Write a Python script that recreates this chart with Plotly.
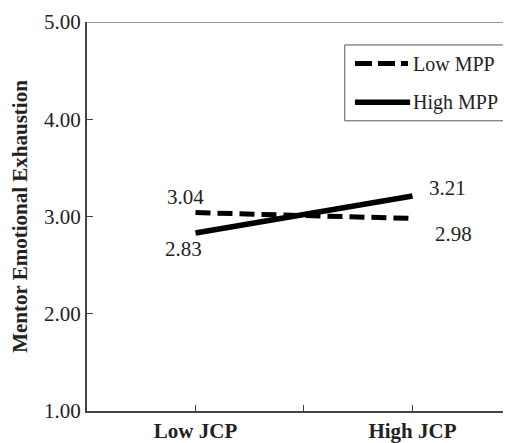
import plotly.graph_objects as go

categories = ["Low JCP", "High JCP"]
series_names = ["Low MPP", "High MPP"]
low_mpp = [3.04, 2.98]
high_mpp = [2.83, 3.21]
y_ticks = [1, 2, 3, 4, 5]
y_tick_labels = ["1.00", "2.00", "3.00", "4.00", "5.00"]

x = [0, 1]
font = "Liberation Serif, Times New Roman, serif"
dash_main = "15px,7px"

fig = go.Figure()
fig.add_trace(go.Scatter(x=x, y=low_mpp, mode="lines", name=series_names[0],
                         line=dict(color="black", width=5, dash=dash_main)))
fig.add_trace(go.Scatter(x=x, y=high_mpp, mode="lines", name=series_names[1],
                         line=dict(color="black", width=5.5)))

# value labels
fig.add_annotation(x=x[0], y=low_mpp[0], text=f"{low_mpp[0]:.2f}", showarrow=False,
                   xshift=-10, yshift=16, font=dict(size=21))
fig.add_annotation(x=x[0], y=high_mpp[0], text=f"{high_mpp[0]:.2f}", showarrow=False,
                   xshift=-12, yshift=-16, font=dict(size=21))
fig.add_annotation(x=x[1], y=high_mpp[1], text=f"{high_mpp[1]:.2f}", showarrow=False,
                   xshift=35, yshift=8, font=dict(size=21))
fig.add_annotation(x=x[1], y=low_mpp[1], text=f"{low_mpp[1]:.2f}", showarrow=False,
                   xshift=41, yshift=-16, font=dict(size=21))

# top frame line
fig.add_shape(type="line", xref="paper", yref="y", x0=0, x1=1, y0=5, y1=5,
              line=dict(color="#777", width=1.5))

# custom legend (box, sample lines, labels)
fig.add_shape(type="rect", xref="paper", yref="paper", x0=0.608, x1=0.993, y0=0.746, y1=0.941,
              line=dict(color="#555", width=1), fillcolor="white")
fig.add_shape(type="line", xref="paper", yref="paper", x0=0.632, x1=0.757, y0=0.893, y1=0.893,
              line=dict(color="black", width=5, dash="17px,6px"))
fig.add_shape(type="line", xref="paper", yref="paper", x0=0.632, x1=0.762, y0=0.794, y1=0.794,
              line=dict(color="black", width=5.5))
fig.add_annotation(xref="paper", yref="paper", x=0.764, y=0.893, text=series_names[0],
                   showarrow=False, xanchor="left", yanchor="middle", font=dict(size=20))
fig.add_annotation(xref="paper", yref="paper", x=0.764, y=0.794, text=series_names[1],
                   showarrow=False, xanchor="left", yanchor="middle", font=dict(size=20))

fig.update_layout(
    width=503, height=435,
    margin=dict(l=79, r=0, t=14, b=28),
    plot_bgcolor="white", paper_bgcolor="white",
    font=dict(family=font, color="#222", size=21),
    showlegend=False,
    xaxis=dict(range=[-0.5, 1.454], tickvals=[0, 0.5, 1],
               ticktext=["<b>" + categories[0] + "</b>", "", "<b>" + categories[1] + "</b>"],
               ticks="inside", ticklen=6, tickcolor="#444", tickwidth=1,
               showline=True, linecolor="#444", linewidth=2,
               showgrid=False, zeroline=False, tickfont=dict(size=21)),
    yaxis=dict(range=[1, 5], tickvals=y_ticks, ticktext=y_tick_labels,
               ticks="inside", ticklen=6, tickcolor="#444", tickwidth=1,
               showline=True, linecolor="#444", linewidth=2,
               showgrid=False, zeroline=False, tickfont=dict(size=21),
               title=dict(text="<b>Mentor Emotional Exhaustion</b>", font=dict(size=21), standoff=14)),
)

fig.write_html("out.html")
